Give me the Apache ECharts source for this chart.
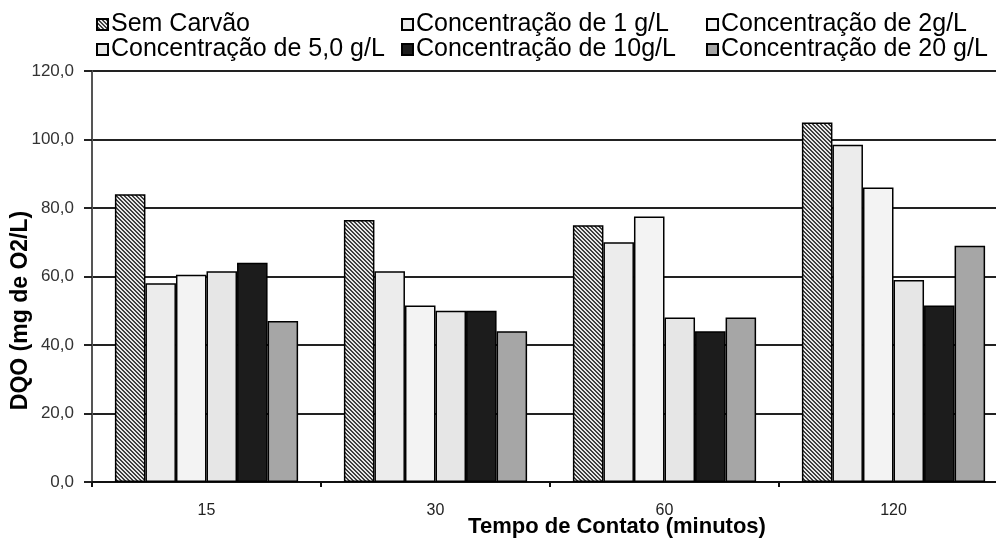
<!DOCTYPE html>
<html><head><meta charset="utf-8">
<script src="https://cdn.jsdelivr.net/npm/echarts@6/dist/echarts.min.js"></script>
<style>html,body{margin:0;padding:0;background:#fff;overflow:hidden}#c{width:996px;height:538px}</style>
</head><body><div id="c"></div>
<script>
const categories = ['15', '30', '60', '120'];
const seriesNames = ['Sem Carvão', 'Concentração de 1 g/L', 'Concentração de 2g/L', 'Concentração de 5,0 g/L', 'Concentração de 10g/L', 'Concentração de 20 g/L'];
const semCarvao = [84, 76.5, 75, 105];
const conc1 = [58, 61.5, 70, 98.5];
const conc2 = [60.5, 51.5, 77.5, 86];
const conc5 = [61.5, 50, 48, 59];
const conc10 = [64, 50, 44, 51.5];
const conc20 = [47, 44, 48, 69];
const yTicks = [0, 20, 40, 60, 80, 100, 120];

// hatch pattern
const pc = document.createElement('canvas');
pc.width = 4; pc.height = 4;
const g = pc.getContext('2d');
g.fillStyle = '#e8e8e8'; g.fillRect(0,0,4,4);
g.fillStyle = '#404040';
for (let i = 0; i < 4; i++) { g.fillRect(i, i, 1, 1); g.fillRect((i+1)%4, i, 1, 1); }
const hatch = { image: pc, repeat: 'repeat' };

const fills = [hatch, '#ececec', '#f3f3f3', '#e6e6e6', '#1c1c1c', '#a6a6a6'];
const values = [semCarvao, conc1, conc2, conc5, conc10, conc20];

const legendPos = [[91, 7], [396, 7], [701, 7], [91, 32], [396, 32], [701, 32]];
const legends = seriesNames.map((n, i) => ({
  data: [n], left: legendPos[i][0], top: legendPos[i][1],
  itemWidth: 11, itemHeight: 11, icon: 'rect', itemGap: 4,
  textStyle: { fontFamily: 'Liberation Sans, Arial', fontSize: 25, color: '#000', padding: [0,0,0,-2] },
  selectedMode: false
}));

const chart = echarts.init(document.getElementById('c'), null, { renderer: 'canvas', width: 996, height: 538 });
chart.setOption({
  animation: false,
  backgroundColor: '#fff',
  legend: legends,
  grid: { left: 92, top: 71, width: 916, height: 411, containLabel: false, outerBoundsMode: 'none' },
  xAxis: {
    type: 'category', data: categories,
    name: 'Tempo de Contato (minutos)', nameLocation: 'middle', nameGap: 34, nameMoveOverlap: false,
    nameTextStyle: { fontFamily: 'Liberation Sans, Arial', fontWeight: 'bold', fontSize: 22, color: '#000', padding: [0, 0, 0, 134] },
    axisLine: { lineStyle: { color: '#111', width: 2 } },
    axisTick: { show: true, length: 5, lineStyle: { color: '#111', width: 2 } },
    axisLabel: { fontFamily: 'Liberation Sans, Arial', fontSize: 16, color: '#222', margin: 21 }
  },
  yAxis: {
    type: 'value', min: 0, max: 120, interval: 20,
    name: 'DQO (mg de O2/L)', nameLocation: 'middle', nameGap: 60, nameMoveOverlap: false,
    nameTextStyle: { fontFamily: 'Liberation Sans, Arial', fontWeight: 'bold', fontSize: 23, color: '#000', padding: [0, 68, 0, 0] },
    axisLine: { show: true, lineStyle: { color: '#555', width: 2 } },
    axisTick: { show: true, length: 8, lineStyle: { color: '#222', width: 2 } },
    axisLabel: { fontFamily: 'Liberation Sans, Arial', fontSize: 17, color: '#333', margin: 18,
      formatter: v => yTicks.includes(v) ? v.toFixed(1).replace('.', ',') : '' },
    splitLine: { show: true, lineStyle: { color: '#222', width: 2 } }
  },
  series: seriesNames.map((n, i) => ({
    name: n, type: 'bar', data: values[i],
    barGap: '0%', barCategoryGap: '20%',
    itemStyle: { color: fills[i], borderColor: '#000', borderWidth: 1.5 }
  }))
});
</script></body></html>
